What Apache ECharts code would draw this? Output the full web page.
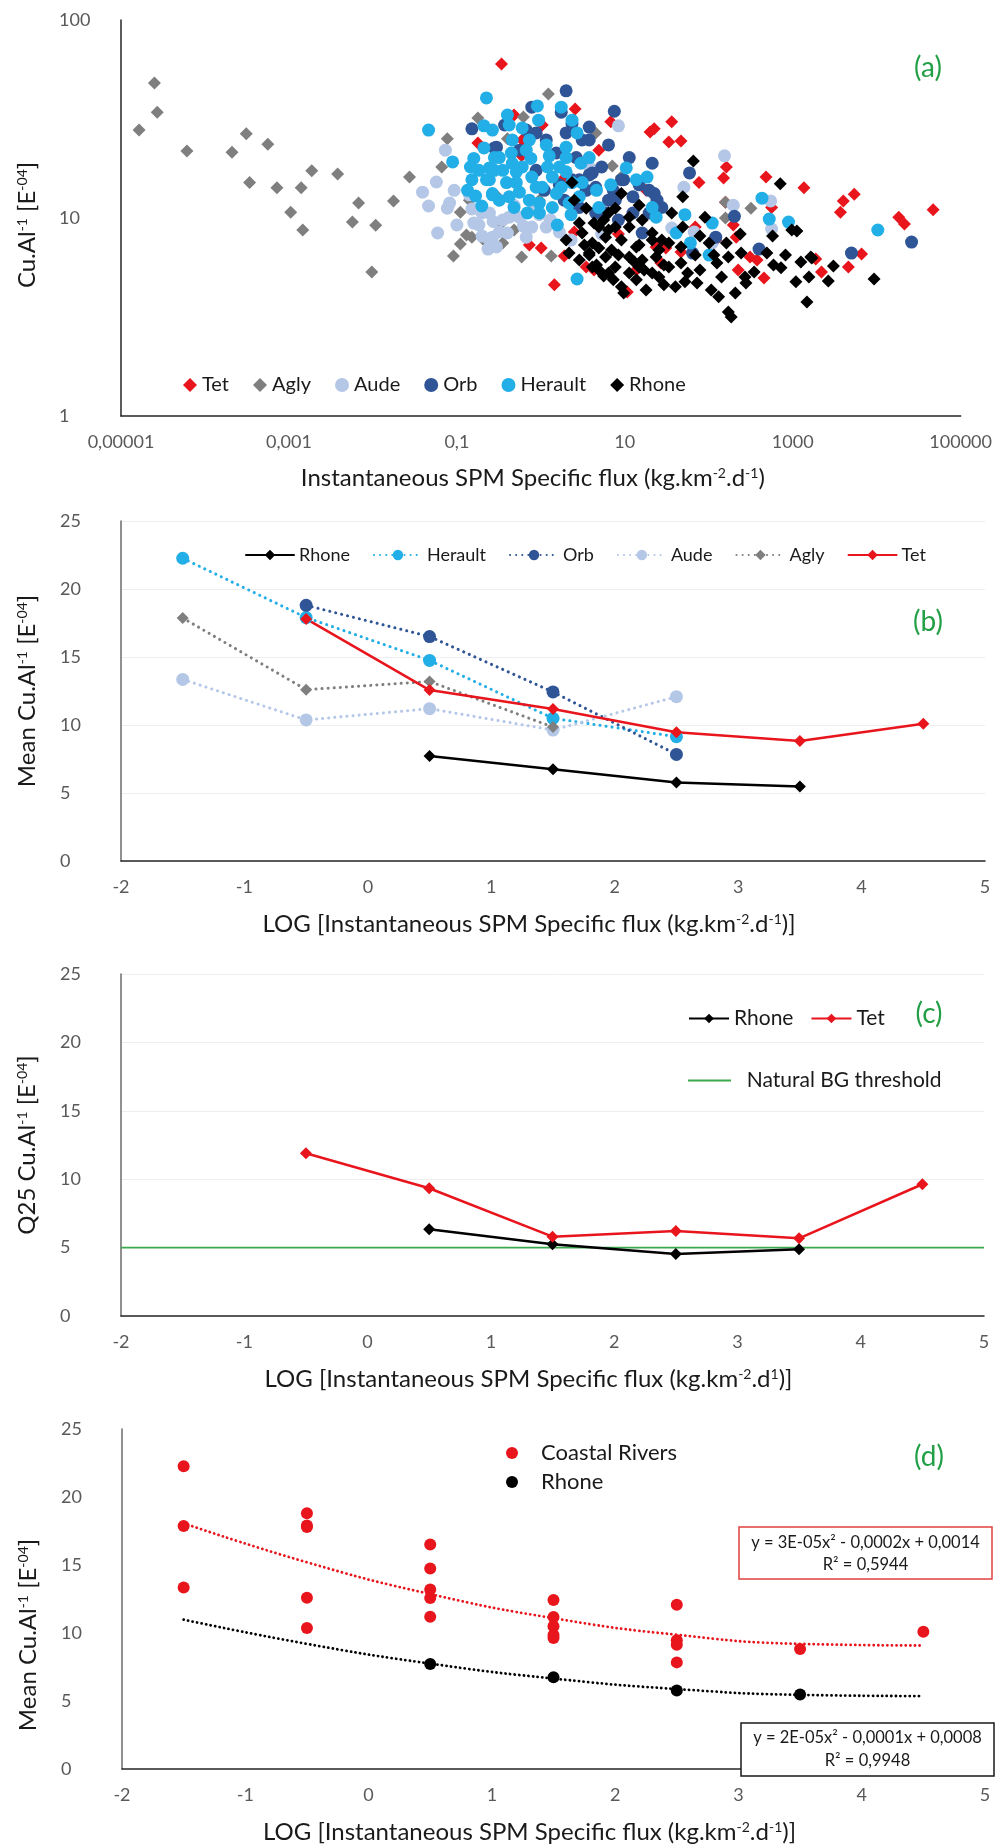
<!DOCTYPE html>
<html><head><meta charset="utf-8">
<script src="https://cdn.jsdelivr.net/npm/echarts@6/dist/echarts.min.js"></script>
<style>html,body{margin:0;padding:0;background:#fff}#c{width:995px;height:1845px}</style>
</head><body><div id="c"></div>
<script>
// ---------- Panel (a): instantaneous SPM specific flux (kg.km-2.d-1) vs Cu.Al-1 [E-04] ----------
const tetA = [[0.34,60],[0.178,23.9],[2.56,35.5],[6.8,30.6],[20,27.2],[1.04,29.5],[0.6,24.8],[0.48,33.1],[1.01,7.05],[1.9,6.43],[1.45,4.6],[10.7,4.23],[3.47,5.66],[13.7,5.46],[17.9,13.8],[23.6,7.14],[1.9,15.9],[0.59,20.6],[36.2,30.6],[22.4,28.2],[33.4,24.2],[46.7,24.5],[162,18.1],[150,15.9],[76.5,15.1],[480,16.1],[1360,14.2],[158,12],[560,11.3],[196,9.22],[212,8.0],[69,9.0],[310,6.35],[376,6.13],[224,5.46],[455,4.98],[26.9,5.93],[30.8,7.05],[46.7,6.73],[121,7.74],[5400,13.2],[4000,12.2],[3700,10.7],[18300,10.1],[21400,9.33],[47000,11.0],[6600,6.58],[4600,5.66],[2200,5.34],[1880,6.21],[4.9,22],[8.4,8.3],[4.3,5.46],[2.5,8.5],[0.73,7.3]];
const aglyA = [[1.64e-5,27.8],[2.5e-5,48],[2.7e-5,34.2],[6.1e-5,21.8],[2.1e-4,21.5],[3.1e-4,26.6],[3.4e-4,15.1],[5.6e-4,23.6],[7.2e-4,14.2],[1.05e-3,10.7],[1.4e-3,14.2],[1.46e-3,8.7],[1.87e-3,17.3],[3.8e-3,16.7],[5.7e-3,9.54],[6.75e-3,11.9],[9.7e-3,5.34],[1.08e-2,9.2],[1.76e-2,12.2],[2.73e-2,16.1],[6.6e-2,18.1],[7.7e-2,25.1],[9.1e-2,6.43],[0.11,10.7],[0.11,7.39],[0.13,8.2],[0.151,8.0],[0.178,32],[0.215,7.65],[1.23,42.3],[0.62,32.4],[0.4,25.1],[4.5,26.9],[7.1,18.3],[9.1,16.1],[0.352,7.48],[0.59,6.35],[1.33,6.43],[0.305,12.8],[158,12],[318,11.2],[158,10],[0.141,12.3],[0.48,8.7],[0.96,12.3],[0.32,9.2]];
const audeA = [[7.3e-2,22],[5.7e-2,15.2],[3.9e-2,13.5],[4.6e-2,11.5],[5.9e-2,8.4],[8.2e-2,11.9],[7.7e-2,11.2],[0.1,9.22],[0.151,11.1],[0.159,9.43],[0.235,6.97],[0.265,8.0],[0.198,10.6],[0.244,10.6],[0.352,9.77],[0.555,10.1],[0.78,9.0],[1.16,9.0],[0.67,8.0],[0.4,8.4],[0.244,7.74],[0.296,7.14],[8.4,29.2],[3.77,18.1],[2.29,7.74],[5.3,8.3],[154,20.6],[50.5,14.3],[196,11.6],[545,12.2],[560,8.8],[36.2,8.9],[67,8.5],[110,7.48],[0.48,11.6],[0.96,10.4],[1.66,8.5],[0.141,13.1],[0.093,13.8],[0.183,9.22],[0.32,8.5],[0.84,11.6],[0.42,10.1],[0.62,9.1],[1.3,9.8],[0.27,9.6],[0.2,8.1]];
const orbA = [[0.151,28.2],[0.28,22.6],[2.0,43.9],[7.5,34.6],[6.4,23.4],[11.3,20.2],[21.2,18.9],[0.78,36.3],[0.88,26.9],[1.75,34.2],[3.1,24.8],[3.77,24.8],[2.35,15.6],[3.47,13.8],[5.3,18.1],[4.5,14.3],[6.4,12.3],[12.5,10.6],[19.5,10.6],[22.4,13.3],[1.53,21.3],[1.16,24.8],[2.64,20.2],[4.5,10.6],[8.4,9.77],[16.1,8.4],[12.5,12.8],[0.88,17.4],[0.67,27.8],[0.296,22.8],[2.87,11.3],[59,16.9],[202,10.2],[397,6.97],[24.2,12.3],[27.6,11.3],[19.5,13.8],[64,6.65],[121,8.0],[5000,6.65],[26000,7.56],[0.555,22],[1.66,14.7],[1.1,13.8],[1.9,12.3],[3.77,16.5],[7.3,13.8],[9.7,15.6],[14.8,14.7],[0.37,29.5],[3.77,28.8],[2.0,26.9],[4.1,16.9],[2.87,15.6],[7.7,12.3],[5.9,10.6],[2.35,30],[9.1,15.6]];
const heraultA = [[0.225,40.4],[4.6e-2,27.8],[8.9e-2,19.2],[0.21,22.6],[0.159,20],[0.145,18.1],[0.151,15.6],[0.183,17.4],[0.244,17.9],[0.225,15.6],[0.134,13.8],[0.167,12.9],[0.198,11.5],[0.265,13.1],[0.28,20.2],[0.265,27.8],[0.21,29.2],[0.91,36.8],[1.75,36.3],[2.35,31.2],[0.94,31.2],[0.4,33.1],[0.6,28.5],[0.42,29.5],[1.16,23.4],[2.0,22.8],[2.7,26.9],[0.32,20.2],[0.445,21.3],[0.76,20],[1.26,20.6],[1.66,18.1],[3.0,18.9],[0.6,18.1],[0.457,18.9],[0.352,17.4],[0.244,15.6],[0.39,15.1],[0.555,13.5],[0.78,16.1],[1.04,14.3],[1.37,16.1],[1.75,14.3],[2.35,15.1],[3.1,15.1],[0.32,12.3],[0.48,11.3],[0.69,10.6],[0.96,11.9],[1.37,11.3],[2.17,11.9],[2.87,12.8],[1.57,9.22],[4.6,13.8],[6.8,14.7],[10.4,17.9],[13.7,15.6],[18.4,16.1],[23.6,10.1],[2.7,4.92],[0.51,17.1],[0.265,13.3],[430,12.6],[525,9.88],[890,9.54],[110,9.43],[52,10.4],[21.2,11.3],[60.4,7.48],[101,6.5],[41,8.4],[10300,8.7],[0.457,24.8],[0.73,24.8],[0.28,17.4],[0.88,14.3],[1.2,18.1],[2.0,20.2],[2.0,17.1],[0.67,22],[0.51,15.1],[0.42,12.8],[2.29,10.4],[0.73,12.3],[3.77,20.2],[4.9,11.3],[1.53,13.3],[0.96,10.6]];
const rhoneA = [[2.35,15.1],[2.5,12.3],[3.47,11.2],[2.87,9.43],[4.3,9.43],[9.1,13.3],[14.8,11.6],[7.7,11.2],[5.6,9.77],[2.0,7.74],[3.1,8.4],[2.17,6.65],[4.1,7.48],[2.87,6.13],[4.1,5.66],[5.9,8.0],[6.95,6.89],[9.1,7.74],[11.3,9.0],[13.7,7.14],[7.7,5.66],[11.3,5.28],[16.1,6.13],[5.9,6.35],[21.2,7.74],[21.2,5.28],[13.7,4.87],[17.9,4.33],[9.1,4.49],[4.9,7.05],[65.5,19.4],[710,14.9],[49,12.8],[90,10.1],[237,8.3],[575,8.1],[975,8.7],[1120,8.6],[36.2,10.6],[49,9.0],[78.5,8.1],[101,7.48],[162,7.48],[21.2,8.4],[27.6,7.74],[33.4,7.48],[46.7,7.14],[69,6.5],[115,6.5],[171,6.35],[243,6.65],[492,6.65],[820,6.5],[590,5.79],[1250,6.0],[1690,6.28],[23.6,6.35],[33.4,5.66],[46.7,5.93],[56,5.28],[78.5,5.46],[125,5.93],[142,5.03],[270,5.03],[347,5.34],[725,5.6],[1090,4.76],[1475,3.76],[25.5,5.03],[40,4.49],[72.5,4.7],[107,4.33],[131,4.0],[207,4.18],[277,4.7],[171,3.35],[185,3.16],[52,4.76],[29.2,4.6],[1640,6.35],[3050,5.72],[2650,4.81],[1560,5.03],[9300,4.92],[6.4,8.7],[8.4,6.5],[13,6.0],[17,5.46],[7.3,4.87],[9.7,4.18],[14.8,7.3],[3.77,6.5],[4.6,5.79],[25.5,6.89],[29.2,5.79],[5.6,5.1],[3.3,7.3],[4.9,9.0],[6.4,10.6],[11.3,10.1],[16.1,9.77],[7.7,9.0],[3.77,6.65],[11.3,6.35],[14.8,5.66],[6.4,5.28],[4.9,5.46]];
const fluxTickLabels = {'-5':'0,00001','-3':'0,001','-1':'0,1','1':'10','3':'1000','5':'100000'};
const ratioTickLabels = {'0':'1','1':'10','2':'100'};

// ---------- Panels (b)-(d): binned LOG flux classes ----------
const binX = [-1.5, -0.5, 0.5, 1.5, 2.5, 3.5, 4.5];
const meanRhone   = [null, null, 7.72, 6.74, 5.78, 5.48, null];
const meanHerault = [22.26, 17.9, 14.75, 10.49, 9.14, null, null];
const meanOrb     = [null, 18.8, 16.5, 12.43, 7.84, null, null];
const meanAude    = [13.35, 10.37, 11.2, 9.63, 12.08, null, null];
const meanAgly    = [17.87, 12.6, 13.2, 9.85, null, null, null];
const meanTet     = [null, 17.8, 12.57, 11.17, 9.46, 8.82, 10.1];
const q25Rhone = [null, null, 6.34, 5.24, 4.54, 4.88, null];
const q25Tet   = [null, 11.9, 9.34, 5.8, 6.22, 5.68, 9.63];
const bgThreshold = 5;
const trendCoastal = [18.07, 15.2, 12.86, 11.09, 9.87, 9.2, 9.08];
const trendRhone   = [10.98, 9.2, 7.75, 6.65, 5.88, 5.45, 5.36];
const eqCoastal = ['y = 3E-05x² - 0,0002x + 0,0014', 'R² = 0,5944'];
const eqRhone   = ['y = 2E-05x² - 0,0001x + 0,0008', 'R² = 0,9948'];

// ---------- build ----------
const FONT = 'Lato, "Noto Sans", sans-serif';
const C = {tet:'#e8151d', agly:'#7f7f7f', aude:'#b4c7e7', orb:'#2f5597', herault:'#22aee6', rhone:'#000000', green:'#23a047'};
const DOT = [0.1, 6];
const pairs = arr => binX.map((x,i)=>[x, arr[i]]);
const coastalPts = [];
[meanHerault, meanOrb, meanAude, meanAgly, meanTet].forEach(a => a.forEach((v,i)=>{ if (v!=null) coastalPts.push([binX[i], v]); }));

const tickLbl = {color:'#595959', fontSize:18, fontFamily:FONT};
const richName = (fs, pad) => ({
  fontFamily: FONT,
  padding: pad || 0,
  rich: {
    t: {fontSize: fs, color:'#1a1a1a', fontFamily: FONT},
    s: {fontSize: Math.round(fs*0.58), color:'#1a1a1a', fontFamily: FONT, verticalAlign:'top'}
  }
});
const xTitleLog = (sup2) => '{t|LOG [Instantaneous SPM Specific flux (kg.km}{s|-2}{t|.d}{s|' + sup2 + '}{t|)]}';
const yTitle = (prefix) => '{t|' + prefix + 'Cu.Al}{s|-1}{t| [E}{s|-04}{t|]}';

function linXAxis(grid, name) {
  return {type:'value', gridIndex:grid, min:-2, max:5, interval:1,
    axisLine:{show:true, onZero:false, lineStyle:{color:'#262626', width:1.5}},
    axisTick:{show:false}, splitLine:{show:false},
    axisLabel:Object.assign({margin:17}, tickLbl),
    name:name, nameLocation:'middle', nameGap:51,
    nameTextStyle:richName(24, [0,48,0,0])};
}
function linYAxis(grid, name, grid_lines, pad) {
  return {type:'value', gridIndex:grid, min:0, max:25, interval:5,
    axisLine:{show:true, onZero:false, lineStyle:{color:'#6b6b6b', width:1.5}},
    axisTick:{show:false},
    splitLine:{show:grid_lines, lineStyle:{color:'#eeeeee', width:1}},
    axisLabel:Object.assign({margin:61, align:'left'}, tickLbl),
    name:name, nameLocation:'middle', nameGap:82, nameTextStyle:richName(24, pad)};
}

const series = [];
function scatterA(name, data, color, symbol) {
  series.push({type:'scatter', name:'a:'+name, xAxisIndex:0, yAxisIndex:0, data:data,
    symbol:symbol, symbolSize:13, itemStyle:{color:color, opacity:1},
    emphasis:{disabled:true}});
}
scatterA('Tet', tetA, C.tet, 'diamond');
scatterA('Agly', aglyA, C.agly, 'diamond');
scatterA('Aude', audeA, C.aude, 'circle');
scatterA('Orb', orbA, C.orb, 'circle');
scatterA('Herault', heraultA, C.herault, 'circle');
scatterA('Rhone', rhoneA, C.rhone, 'diamond');

function lineB(name, arr, color, dotted, symbol, size) {
  series.push({type:'line', name:'b:'+name, xAxisIndex:1, yAxisIndex:1, data:pairs(arr),
    symbol:symbol, symbolSize:size, showSymbol:true,
    lineStyle:{color:color, width: dotted ? 3 : 2.5, type: dotted ? DOT : 'solid', cap:'round'},
    itemStyle:{color:color, opacity:1},
    emphasis:{disabled:true}});
}
lineB('Rhone', meanRhone, C.rhone, false, 'diamond', 12);
lineB('Herault', meanHerault, C.herault, true, 'circle', 13);
lineB('Orb', meanOrb, C.orb, true, 'circle', 13);
lineB('Aude', meanAude, C.aude, true, 'circle', 13);
lineB('Agly', meanAgly, C.agly, true, 'diamond', 12);
lineB('Tet', meanTet, C.tet, false, 'diamond', 12);

series.push({type:'line', name:'c:Natural BG threshold', xAxisIndex:2, yAxisIndex:2,
  data:[[-2,bgThreshold],[5,bgThreshold]], symbol:'none', lineStyle:{color:'#3aa84c', width:1.8}, itemStyle:{color:'#3aa84c'}, emphasis:{disabled:true}});
series.push({type:'line', name:'c:Rhone', xAxisIndex:2, yAxisIndex:2, data:pairs(q25Rhone),
  symbol:'diamond', symbolSize:12, lineStyle:{color:C.rhone, width:2.5}, itemStyle:{color:C.rhone}, emphasis:{disabled:true}});
series.push({type:'line', name:'c:Tet', xAxisIndex:2, yAxisIndex:2, data:pairs(q25Tet),
  symbol:'diamond', symbolSize:12, lineStyle:{color:C.tet, width:2.5}, itemStyle:{color:C.tet}, emphasis:{disabled:true}});

series.push({type:'line', name:'d:trendCoastal', xAxisIndex:3, yAxisIndex:3, data:pairs(trendCoastal),
  smooth:0.5, symbol:'none', lineStyle:{color:C.tet, width:2.8, type:[0.1,4.5], cap:'round'}, emphasis:{disabled:true}});
series.push({type:'line', name:'d:trendRhone', xAxisIndex:3, yAxisIndex:3, data:pairs(trendRhone),
  smooth:0.5, symbol:'none', lineStyle:{color:'#000', width:2.8, type:[0.1,4.5], cap:'round'}, emphasis:{disabled:true}});
series.push({type:'scatter', name:'d:Coastal Rivers', xAxisIndex:3, yAxisIndex:3, data:coastalPts,
  symbol:'circle', symbolSize:12, itemStyle:{color:C.tet, opacity:1}, emphasis:{disabled:true}});
series.push({type:'scatter', name:'d:Rhone', xAxisIndex:3, yAxisIndex:3, data:pairs(meanRhone).filter(p=>p[1]!=null),
  symbol:'circle', symbolSize:12, itemStyle:{color:'#000', opacity:1}, emphasis:{disabled:true}});

const legTxt = (fs) => ({fontSize:fs, color:'#1a1a1a', fontFamily:FONT});
const strip = n => n.slice(2);

const option = {
  animation:false,
  backgroundColor:'#ffffff',
  textStyle:{fontFamily:FONT},
  grid:[
    {left:121, top:20, width:841, height:396},
    {left:121, top:521, width:864, height:340},
    {left:121, top:974, width:863, height:342},
    {left:122, top:1429, width:863, height:340}
  ],
  xAxis:[
    {type:'log', gridIndex:0, logBase:10, min:1e-5, max:0.99999e5, splitNumber:10,
      axisLine:{show:true, lineStyle:{color:'#262626', width:1.5}},
      axisTick:{show:false}, splitLine:{show:false}, minorTick:{show:false},
      axisLabel:Object.assign({margin:17, showMinLabel:true, showMaxLabel:true, hideOverlap:false,
        formatter: v => { const e = Math.round(Math.log10(v)); return fluxTickLabels[String(e)] || ''; }}, tickLbl),
      name:'{t|Instantaneous SPM Specific flux (kg.km}{s|-2}{t|.d}{s|-1}{t|)}', nameLocation:'middle', nameGap:50,
      nameTextStyle:richName(24, [0,16,0,0])},
    linXAxis(1, xTitleLog('-1')),
    linXAxis(2, xTitleLog('1')),
    linXAxis(3, xTitleLog('-1'))
  ],
  yAxis:[
    {type:'log', gridIndex:0, logBase:10, min:1, max:100,
      axisLine:{show:true, lineStyle:{color:'#262626', width:1.5}},
      axisTick:{show:false}, splitLine:{show:false}, minorTick:{show:false},
      axisLabel:Object.assign({margin:62, align:'left',
        formatter: v => ratioTickLabels[String(Math.round(Math.log10(v)))] || ''}, tickLbl),
      name:yTitle(''), nameLocation:'middle', nameGap:82, nameTextStyle:richName(24, [0,14,0,0])},
    linYAxis(1, yTitle('Mean '), true, 0),
    linYAxis(2, yTitle('Q25 '), true, 0),
    linYAxis(3, yTitle('Mean '), false, [0,72,0,0])
  ],
  legend:[
    {left:178, top:370, itemWidth:14, itemHeight:14, itemGap:24, formatter:strip, textStyle:legTxt(20),
      data:['a:Tet','a:Agly','a:Aude','a:Orb','a:Herault','a:Rhone'], selectedMode:false},
    {left:240, top:541, itemWidth:48, itemHeight:13, itemGap:23, formatter:strip, textStyle:legTxt(18),
      data:['b:Rhone','b:Herault','b:Orb','b:Aude','b:Agly','b:Tet'], selectedMode:false},
    {left:683, top:1003, itemWidth:40, itemHeight:12, itemGap:17, formatter:strip, textStyle:legTxt(21),
      data:['c:Rhone','c:Tet'], selectedMode:false},
    {left:683, top:1065, itemWidth:43, itemHeight:2, icon:'rect', formatter:n=>'  '+strip(n), textStyle:legTxt(21),
      data:['c:Natural BG threshold'], selectedMode:false},
    {left:501, top:1437, orient:'vertical', itemWidth:48, itemHeight:12, itemGap:7, formatter:strip, textStyle:legTxt(22),
      data:['d:Coastal Rivers','d:Rhone'], selectedMode:false}
  ],
  graphic:[
    {type:'text', x:928, y:68, z:100, style:{text:'(a)', fill:C.green, fontSize:28, fontFamily:FONT, align:'center', verticalAlign:'middle'}},
    {type:'text', x:928, y:622, z:100, style:{text:'(b)', fill:C.green, fontSize:28, fontFamily:FONT, align:'center', verticalAlign:'middle'}},
    {type:'text', x:929, y:1014, z:100, style:{text:'(c)', fill:C.green, fontSize:28, fontFamily:FONT, align:'center', verticalAlign:'middle'}},
    {type:'text', x:929, y:1457, z:100, style:{text:'(d)', fill:C.green, fontSize:28, fontFamily:FONT, align:'center', verticalAlign:'middle'}},
    {type:'rect', z:100, shape:{x:739, y:1527, width:253, height:52}, style:{fill:'#fff', stroke:'#e0403f', lineWidth:1.5}},
    {type:'text', z:101, x:865.5, y:1543, style:{text:eqCoastal[0], fill:'#1a1a1a', fontSize:16.5, fontFamily:FONT, align:'center', verticalAlign:'middle'}},
    {type:'text', z:101, x:865.5, y:1565, style:{text:eqCoastal[1], fill:'#1a1a1a', fontSize:16.5, fontFamily:FONT, align:'center', verticalAlign:'middle'}},
    {type:'rect', z:100, shape:{x:741, y:1723, width:253, height:53}, style:{fill:'#fff', stroke:'#1a1a1a', lineWidth:1.5}},
    {type:'text', z:101, x:867.5, y:1738, style:{text:eqRhone[0], fill:'#1a1a1a', fontSize:16.5, fontFamily:FONT, align:'center', verticalAlign:'middle'}},
    {type:'text', z:101, x:867.5, y:1761, style:{text:eqRhone[1], fill:'#1a1a1a', fontSize:16.5, fontFamily:FONT, align:'center', verticalAlign:'middle'}}
  ],
  series:series
};
const chart = echarts.init(document.getElementById('c'), null, {renderer:'canvas'});
chart.setOption(option);
</script></body></html>
